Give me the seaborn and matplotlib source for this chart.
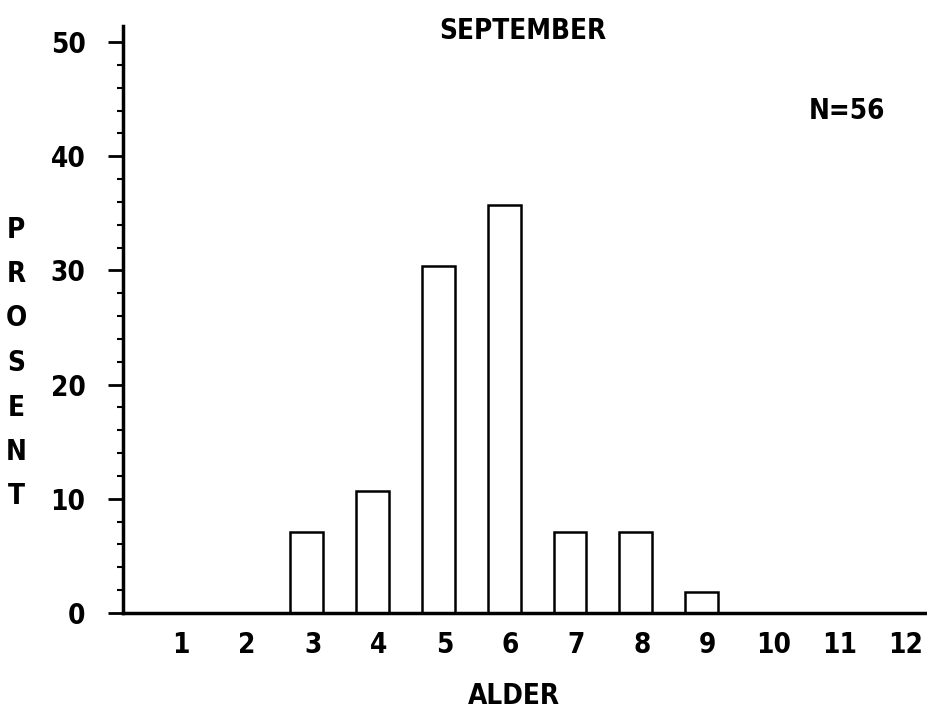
import matplotlib
matplotlib.use("Agg")
import matplotlib.pyplot as plt
import matplotlib.transforms as mtrans
import seaborn as sns
import pandas as pd
from matplotlib.ticker import MultipleLocator

ages = [1, 2, 3, 4, 5, 6, 7, 8, 9, 10, 11, 12]
percent = [0, 0, 7.1, 10.7, 30.4, 35.7, 7.1, 7.1, 1.8, 0, 0, 0]
y_ticks = [0, 10, 20, 30, 40, 50]
title = "SEPTEMBER"
n_label = "N=56"
x_label = "ALDER"
y_label = "PROSENT"

sns.set_style("white")
plt.rcParams['font.family'] = ['DejaVu Sans']
plt.rcParams['font.stretch'] = 'condensed'
plt.rcParams['text.color'] = 'black'
plt.rcParams['xtick.color'] = 'black'
plt.rcParams['ytick.color'] = 'black'
plt.rcParams['axes.labelcolor'] = 'black'
FS = 20
FW = 'semibold'

fig = plt.figure(figsize=(9.28, 7.14), dpi=100)
ax = fig.add_axes([123/928, 101/714, 802/928, (613-26)/714])
df = pd.DataFrame({"age": ages, "percent": percent})
sns.barplot(data=df[df.percent > 0], x="age", y="percent", native_scale=True,
            width=0.5, color="white", edgecolor="black", linewidth=1.8,
            saturation=1, ax=ax)
shift = mtrans.ScaledTranslation(-6/100, 0, fig.dpi_scale_trans)
for p in ax.patches:
    p.set_transform(ax.transData + shift)

ax.set_xlim(0.12, 12.3)
ax.set_ylim(0, 51.4)
ax.set_xticks(ages)
ax.set_xticklabels([str(a) for a in ages], fontsize=FS, fontweight=FW)
ax.set_yticks(y_ticks)
ax.set_yticklabels([str(t) for t in y_ticks], fontsize=FS, fontweight=FW)
ax.yaxis.set_minor_locator(MultipleLocator(2))
ax.tick_params(axis='x', length=0, pad=13)
ax.tick_params(axis='y', which='major', length=11, width=2, pad=16, direction='out', left=True)
ax.tick_params(axis='y', which='minor', length=4.5, width=1.5, direction='out', left=True)
ax.set_xlabel("")
ax.set_ylabel("")
for s in ["top", "right"]:
    ax.spines[s].set_visible(False)
for s in ["left", "bottom"]:
    ax.spines[s].set_linewidth(2.5)
    ax.spines[s].set_color("black")

fig.text(523/928, 1 - 31/714, title, fontsize=FS, fontweight=FW, ha="center", va="center")
fig.text(847/928, 1 - 111/714, n_label, fontsize=FS, fontweight=FW, ha="center", va="center")
fig.text(514/928, 1 - 696/714, x_label, fontsize=FS, fontweight=FW, ha="center", va="center")
fig.text(16/928, 1 - 363/714, "\n".join(y_label), fontsize=FS, fontweight=FW, ha="center",
         va="center", linespacing=1.75)

fig.savefig("out.png", dpi=100, facecolor="white")
